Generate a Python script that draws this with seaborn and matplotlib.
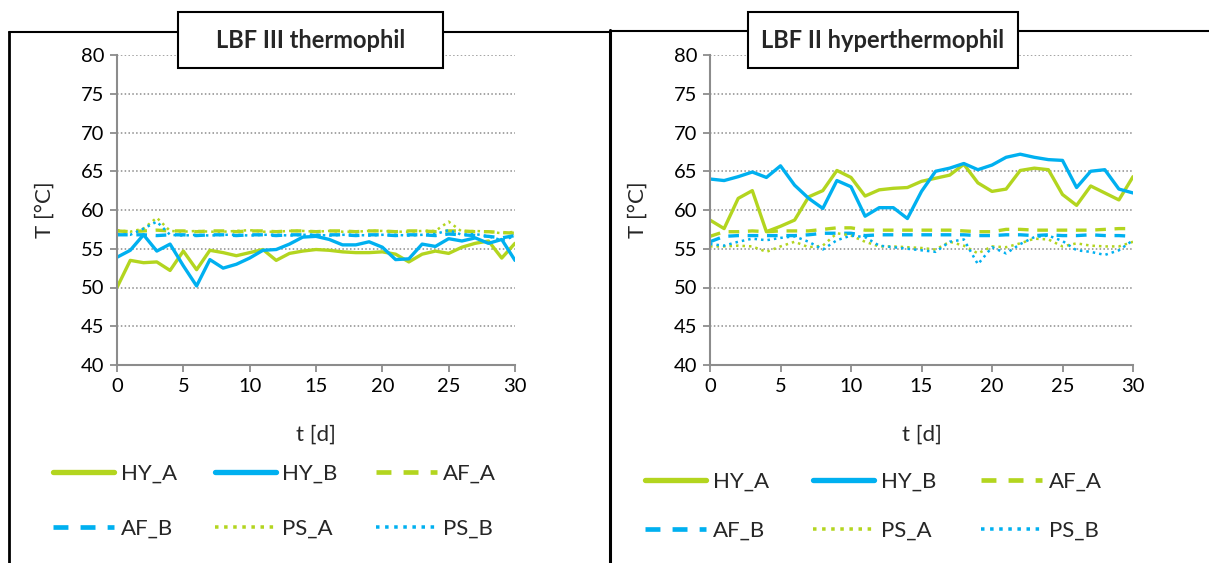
import matplotlib
matplotlib.use('Agg')
import matplotlib.pyplot as plt
from matplotlib.patches import Rectangle
from matplotlib.lines import Line2D
import seaborn as sns
import pandas as pd

# days of the run
days = list(range(31))

# LBF III thermophil
left_hy_a = [50.0, 53.5, 53.2, 53.3, 52.2, 54.7, 52.3, 54.8, 54.5, 54.1, 54.5,
             54.9, 53.5, 54.4, 54.7, 54.9, 54.8, 54.6, 54.5, 54.5, 54.6,
             54.3, 53.3, 54.3, 54.7, 54.4, 55.2, 55.7, 56.0, 53.8, 55.7]
left_hy_b = [53.9, 54.8, 56.8, 54.7, 55.6, 52.8, 50.2, 53.6, 52.5, 53.0, 53.8,
             54.8, 54.9, 55.6, 56.5, 56.6, 56.2, 55.5, 55.5, 55.9, 55.2,
             53.6, 53.7, 55.6, 55.3, 56.3, 56.0, 56.4, 55.7, 56.2, 53.5]
left_af_a = [57.3, 57.2, 57.3, 57.4, 57.3, 57.3, 57.2, 57.3, 57.3, 57.2, 57.3,
             57.3, 57.2, 57.3, 57.3, 57.2, 57.3, 57.3, 57.2, 57.3, 57.3,
             57.2, 57.3, 57.3, 57.2, 57.3, 57.3, 57.2, 57.2, 57.1, 57.0]
left_af_b = [56.8, 56.8, 56.8, 56.7, 56.8, 56.8, 56.7, 56.8, 56.8, 56.7, 56.8,
             56.8, 56.7, 56.8, 56.8, 56.7, 56.8, 56.8, 56.7, 56.8, 56.8,
             56.7, 56.8, 56.8, 56.7, 56.9, 56.8, 56.7, 56.6, 56.4, 56.7]
left_ps_a = [57.4, 57.2, 57.6, 59.0, 57.3, 57.2, 57.3, 57.2, 57.2, 57.3, 57.4,
             57.2, 57.2, 57.3, 57.3, 57.2, 57.3, 57.2, 57.2, 57.3, 57.3,
             57.2, 57.2, 57.3, 57.3, 58.5, 57.2, 57.3, 57.2, 57.0, 57.2]
left_ps_b = [56.9, 56.8, 57.6, 58.5, 56.8, 56.7, 56.8, 56.7, 56.8, 56.8, 56.7,
             56.8, 56.8, 56.7, 56.8, 56.8, 56.7, 56.8, 56.8, 56.7, 56.8,
             56.8, 56.7, 56.8, 56.9, 57.4, 56.8, 56.9, 56.6, 56.1, 56.6]

# LBF II hyperthermophil
right_hy_a = [58.7, 57.6, 61.5, 62.5, 57.2, 57.9, 58.7, 61.7, 62.5, 65.1, 64.2,
              61.8, 62.6, 62.8, 62.9, 63.7, 64.1, 64.5, 65.9, 63.5, 62.4,
              62.7, 65.1, 65.4, 65.2, 62.0, 60.6, 63.1, 62.2, 61.3, 64.3]
right_hy_b = [64.0, 63.8, 64.3, 64.9, 64.2, 65.7, 63.2, 61.5, 60.2, 63.8, 63.0,
              59.2, 60.3, 60.3, 58.9, 62.4, 65.0, 65.4, 66.0, 65.2, 65.8,
              66.8, 67.2, 66.8, 66.5, 66.4, 62.9, 65.0, 65.2, 62.7, 62.2]
right_af_a = [56.6, 57.2, 57.2, 57.3, 57.2, 57.3, 57.3, 57.3, 57.5, 57.7, 57.7,
              57.4, 57.4, 57.4, 57.4, 57.4, 57.4, 57.4, 57.3, 57.2, 57.2,
              57.5, 57.5, 57.4, 57.4, 57.4, 57.4, 57.4, 57.5, 57.6, 57.6]
right_af_b = [55.9, 56.6, 56.7, 56.7, 56.7, 56.7, 56.7, 56.8, 57.0, 57.0, 57.0,
              56.7, 56.8, 56.8, 56.8, 56.8, 56.8, 56.8, 56.8, 56.7, 56.7,
              56.8, 56.8, 56.7, 56.8, 56.7, 56.7, 56.8, 56.7, 56.7, 56.6]
right_ps_a = [55.3, 55.3, 55.4, 55.3, 54.6, 55.3, 55.9, 55.2, 55.4, 57.0, 56.7,
              55.9, 55.3, 55.3, 55.2, 55.1, 54.9, 55.9, 55.4, 54.4, 55.3,
              55.2, 55.7, 56.3, 56.2, 55.3, 55.7, 55.4, 55.3, 55.3, 55.9]
right_ps_b = [55.6, 55.4, 55.9, 56.3, 56.1, 56.4, 56.6, 55.9, 54.9, 56.1, 56.7,
              56.5, 55.4, 55.2, 55.0, 54.8, 54.6, 55.9, 56.2, 53.0, 55.2,
              54.4, 55.6, 56.5, 56.7, 56.0, 54.8, 54.6, 54.2, 54.8, 56.1]

series_names = ['HY_A', 'HY_B', 'AF_A', 'AF_B', 'PS_A', 'PS_B']
green = '#B3D51F'
blue = '#00B0F0'
colors = [green, blue, green, blue, green, blue]
styles = ['-', '-', (0, (3.2, 2.6)), (0, (3.2, 2.6)), (0, (1, 1.6)), (0, (1, 1.6))]
widths = [2.4, 2.4, 2.4, 2.4, 1.8, 1.8]

FONT = ['Lato', 'DejaVu Sans']
plt.rcParams['font.family'] = FONT
sns.set_style('white')
plt.rcParams['font.family'] = FONT

W, H = 1209, 563
fig = plt.figure(figsize=(W / 100, H / 100), dpi=100)


def fx(px):
    return px / W


def fy(py):
    return 1 - py / H


def draw_panel(rect, data, title, title_box, legend_pos, colspace, rowspace):
    ax = fig.add_axes(rect)
    df = pd.DataFrame({'t': days})
    for name, vals in zip(series_names, data):
        df[name] = vals
    for name, c, ls, lw in zip(series_names, colors, styles, widths):
        sns.lineplot(data=df, x='t', y=name, ax=ax, color=c, linestyle=ls,
                     linewidth=lw, label=name, legend=False)
    ax.set_xlim(0, 30)
    ax.set_ylim(40, 80)
    ax.set_xticks(range(0, 31, 5))
    ax.set_yticks(range(40, 81, 5))
    ax.grid(False)
    for yv in range(45, 81, 5):
        ax.axhline(yv, color='#8c8c8c', linestyle=(0, (1, 1.5)), linewidth=1.1, zorder=0)
    for s in ['top', 'right']:
        ax.spines[s].set_visible(False)
    for s in ['left', 'bottom']:
        ax.spines[s].set_color('#8c8c8c')
        ax.spines[s].set_linewidth(1.5)
    ax.tick_params(axis='both', direction='out', length=5, width=1.3, color='#8c8c8c',
                   labelsize=14.5, labelcolor='black', pad=4, left=True, bottom=True)
    ax.set_xlabel('t [d]', fontsize=16, labelpad=22)
    ax.set_ylabel('T [°C]', fontsize=16, labelpad=19)

    handles = [Line2D([0], [0], color=c, linestyle=ls, linewidth=lw * 1.4 if ls != '-' else lw * 1.6)
               for c, ls, lw in zip(colors, styles, widths)]
    order = [0, 3, 1, 4, 2, 5]
    fig.legend([handles[i] for i in order], [series_names[i] for i in order],
               ncol=3, loc='upper left', bbox_to_anchor=legend_pos,
               bbox_transform=fig.transFigure, frameon=False, fontsize=16,
               handlelength=2.75, handletextpad=0.3, columnspacing=colspace,
               labelspacing=rowspace, borderpad=0, borderaxespad=0)

    x0, y0, x1, y1 = title_box
    fig.add_artist(Rectangle((fx(x0), fy(y1)), fx(x1 - x0), (y1 - y0) / H,
                             transform=fig.transFigure, facecolor='white',
                             edgecolor='black', linewidth=1.5, zorder=5))
    fig.text(fx((x0 + x1) / 2), fy((y0 + y1) / 2), title, ha='center', va='center',
             fontsize=17, fontweight='bold', zorder=6)
    return ax


# panel frames
fig.add_artist(Line2D([fx(9), fx(9)], [fy(32), 0], color='black', linewidth=2))
fig.add_artist(Line2D([fx(9), fx(611)], [fy(32), fy(32)], color='black', linewidth=1.5))
fig.add_artist(Line2D([fx(610), fx(610)], [fy(30), 0], color='black', linewidth=2.2))
fig.add_artist(Line2D([fx(611), 1], [fy(31), fy(31)], color='black', linewidth=1.5))

draw_panel([fx(117), fy(365), fx(515 - 117), (365 - 55) / H],
           [left_hy_a, left_hy_b, left_af_a, left_af_b, left_ps_a, left_ps_b],
           'LBF III thermophil', (178, 12, 443, 68), (fx(53), fy(464)), 1.7, 1.58)
draw_panel([fx(710), fy(365), fx(1133 - 710), (365 - 55) / H],
           [right_hy_a, right_hy_b, right_af_a, right_af_b, right_ps_a, right_ps_b],
           'LBF II hyperthermophil', (748, 12, 1018, 68), (fx(645), fy(472)), 2.0, 1.28)

plt.savefig('out.png', dpi=100)
